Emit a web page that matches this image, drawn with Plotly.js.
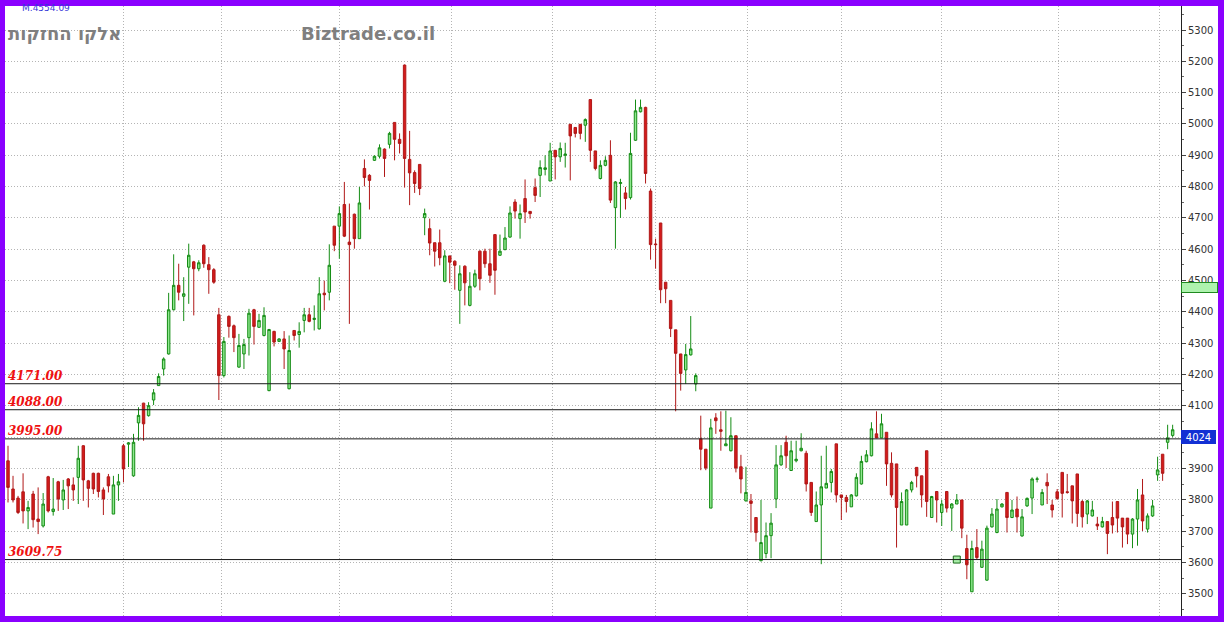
<!DOCTYPE html>
<html><head><meta charset="utf-8">
<script src="https://cdn.plot.ly/plotly-3.0.1.min.js"></script>
<style>html,body{margin:0;padding:0;background:#8a00ff;overflow:hidden;} #chart{width:1224px;height:622px;}</style>
</head><body><div id="chart"></div>
<script>
const openP = [3925,3835,3806,3826,3765,3819,3739,3717,3874,3763,3858,3800,3867,3848,3872,3973,3861,3885,3885,3832,3874,3755,3848,3973,3978,3877,4046,4109,4069,4119,4165,4218,4266,4407,4485,4450,4543,4560,4538,4613,4551,4535,4391,4197,4386,4356,4224,4266,4318,4407,4351,4325,4149,4338,4306,4314,4155,4341,4328,4373,4391,4376,4346,4460,4463,4674,4674,4743,4623,4712,4634,4858,4836,4884,4897,4920,4935,5005,4951,5188,4887,4845,4871,4701,4666,4621,4621,4498,4579,4562,4469,4546,4421,4482,4594,4594,4554,4647,4581,4599,4639,4751,4698,4762,4721,4797,4836,4855,4818,4916,4895,4900,4999,4989,4999,4996,5078,4914,4826,4868,4900,4733,4810,4780,4765,4948,5039,5053,4786,4617,4684,4495,4437,4343,4266,4215,4263,4170,3995,3962,3774,4062,4024,3973,3957,4005,3906,3797,3797,3744,3606,3629,3686,3803,3912,3984,3894,3925,3957,3949,3856,3731,3784,3838,3856,3979,3816,3808,3778,3813,3851,3922,3941,4011,3998,4016,3917,3915,3720,3720,3832,3904,3877,3957,3744,3827,3760,3827,3774,3787,3800,3645,3507,3648,3585,3544,3714,3696,3778,3824,3744,3771,3685,3781,3806,3866,3784,3856,3784,3826,3888,3826,3845,3883,3795,3755,3749,3723,3714,3731,3744,3795,3742,3742,3691,3739,3816,3707,3749,3880,3946,3984,4006];
const highP = [3973,3877,3813,3885,3797,3829,3840,3822,3877,3870,3861,3864,3870,3872,3973,3975,3864,3887,3887,3840,3883,3877,3883,3979,3985,4011,4096,4110,4112,4154,4204,4255,4461,4584,4554,4511,4618,4563,4565,4616,4575,4540,4413,4320,4389,4360,4330,4314,4410,4410,4394,4415,4346,4340,4316,4339,4325,4341,4367,4413,4413,4421,4511,4500,4616,4674,4737,4815,4746,4714,4799,4887,4840,4900,4935,4922,4975,5005,4970,5190,4978,4852,4871,4730,4698,4621,4663,4597,4579,4565,4549,4549,4527,4535,4597,4602,4602,4647,4647,4671,4737,4760,4743,4823,4722,4826,4884,4900,4940,4916,4941,4940,4999,4989,4999,5018,5078,4914,4884,4897,4948,4818,4825,4799,4972,5078,5078,5055,4794,4634,4684,4495,4437,4343,4266,4298,4387,4204,4069,3962,4059,4077,4083,4085,4064,4005,3944,3906,3819,3744,3800,3728,3758,3975,3975,4005,3989,3989,4013,3957,3856,3827,3941,3973,3899,3979,3816,3816,3819,3885,3941,3959,4048,4083,4075,4016,3952,3915,3824,3835,3861,3904,3877,3957,3813,3827,3800,3827,3790,3819,3800,3689,3670,3707,3670,3718,3774,3803,3790,3824,3800,3811,3771,3808,3872,3874,3835,3885,3800,3835,3888,3883,3845,3883,3800,3800,3797,3746,3746,3731,3795,3795,3742,3742,3742,3835,3867,3757,3800,3938,3946,4040,4040];
const lowP = [3792,3792,3755,3725,3707,3712,3691,3712,3760,3750,3765,3768,3771,3797,3787,3797,3776,3819,3808,3752,3824,3755,3797,3856,3905,3874,3989,3989,4066,4103,4165,4197,4264,4405,4437,4371,4426,4389,4530,4541,4458,4490,4119,4191,4318,4272,4222,4218,4261,4296,4350,4322,4147,4290,4304,4218,4153,4309,4286,4335,4367,4341,4344,4405,4437,4594,4570,4639,4362,4602,4634,4801,4727,4882,4890,4831,4922,4884,4906,4797,4741,4780,4773,4645,4581,4545,4549,4495,4492,4471,4362,4421,4418,4477,4469,4541,4493,4455,4579,4597,4637,4698,4634,4684,4698,4751,4767,4836,4818,4823,4879,4861,4820,4957,4951,4943,4879,4852,4823,4865,4748,4602,4700,4727,4759,4946,5037,4810,4567,4538,4428,4428,4320,4083,4149,4170,4261,4147,3895,3895,3774,4011,3957,3973,3955,3888,3821,3795,3696,3667,3604,3614,3614,3774,3909,3902,3893,3920,3955,3827,3749,3731,3595,3838,3824,3792,3736,3760,3778,3811,3849,3920,3939,3998,3998,3845,3808,3648,3720,3720,3824,3840,3776,3746,3744,3728,3717,3760,3701,3787,3678,3547,3507,3611,3583,3542,3712,3694,3776,3696,3742,3696,3683,3778,3755,3856,3784,3787,3744,3800,3744,3820,3725,3714,3712,3723,3747,3704,3712,3627,3693,3696,3648,3659,3646,3654,3701,3696,3746,3861,3861,3962,4000];
const closeP = [3840,3800,3760,3765,3776,3737,3731,3787,3765,3771,3803,3832,3845,3832,3933,3864,3837,3835,3827,3803,3845,3848,3858,3899,3982,3984,4070,4043,4101,4142,4194,4250,4407,4485,4463,4458,4581,4538,4557,4554,4535,4495,4197,4306,4354,4318,4293,4296,4396,4354,4373,4389,4344,4304,4314,4282,4277,4325,4338,4391,4370,4380,4458,4455,4549,4613,4714,4642,4615,4634,4748,4829,4820,4897,4924,4890,4970,4951,4938,4890,4844,4810,4794,4714,4620,4594,4573,4579,4559,4549,4522,4493,4482,4522,4506,4554,4517,4533,4594,4636,4716,4722,4714,4719,4714,4772,4861,4860,4914,4895,4922,4904,4962,4970,4970,5014,4916,4858,4868,4884,4757,4815,4813,4762,4906,5042,5053,4842,4615,4615,4471,4474,4347,4268,4204,4264,4282,4197,3962,3902,4030,4053,4019,3979,4005,3902,3867,3824,3789,3696,3664,3686,3726,3912,3941,3941,3957,3930,3965,3851,3760,3784,3842,3853,3891,3816,3808,3795,3816,3872,3923,3944,4027,3998,4043,3915,3816,3776,3795,3832,3856,3877,3816,3795,3811,3800,3787,3774,3787,3800,3710,3593,3645,3616,3643,3710,3755,3771,3787,3744,3768,3746,3746,3805,3867,3867,3824,3845,3768,3805,3821,3824,3797,3757,3746,3797,3768,3717,3731,3693,3720,3742,3714,3691,3739,3800,3733,3749,3781,3896,3885,3998,4024];

const monthTicks = [23, 42.6, 66, 88.4, 108.4, 129, 147.4, 166, 186, 209.2, 229.3];
const levels = [4171, 4088, 3995, 3609.75];
const levelLabels = ['4171.00', '4088.00', '3995.00', '3609.75'];
const lastPrice = 4024;
const markX = [189];
const markY = [3609.75];
const stockName = 'אלקו החזקות';
const siteName = 'Biztrade.co.il';
const topNote = 'M.4554.09';

const idx = openP.map((_, i) => i);

const W = 1224, H = 622, ML = 5, MR = 43, MT = 6, MB = 6;
const PW = W - ML - MR, PH = H - MT - MB;
const px = x => (x - ML) / PW;
const py = y => 1 - (y - MT) / PH;

const traces = [
  {
    type: 'candlestick', x: idx, open: openP, high: highP, low: lowP, close: closeP,
    increasing: {line: {color: '#158c15', width: 1}, fillcolor: '#8fe88f'},
    decreasing: {line: {color: '#b01818', width: 1}, fillcolor: '#d41b1b'},
    whiskerwidth: 0, hoverinfo: 'skip', showlegend: false
  },
  {
    type: 'scatter', mode: 'markers', x: markX, y: markY,
    marker: {symbol: 'square', size: 7, color: '#a8eea8', line: {color: '#1a6a1a', width: 1}},
    hoverinfo: 'skip', showlegend: false
  }
];

const shapes = levels.map(v => ({
  type: 'line', xref: 'paper', yref: 'y', x0: 0, x1: 1, y0: v, y1: v,
  line: {color: '#1a1a1a', width: 1}
}));
shapes.push({type: 'rect', xref: 'paper', yref: 'paper', x0: 1, x1: px(1218), y0: 0, y1: 1,
  fillcolor: '#ffffff', line: {width: 0}, layer: 'below'});

const annotations = levels.map((v, i) => ({
  xref: 'paper', yref: 'y', x: 0, y: v, xanchor: 'left', yanchor: 'bottom', xshift: 1, yshift: -1,
  text: '<b><i>' + levelLabels[i] + '</i></b>', showarrow: false,
  font: {family: 'DejaVu Serif', size: 12, color: '#ee1111'}
}));
annotations.push(
  {xref: 'paper', yref: 'paper', x: px(6), y: py(33), xanchor: 'left', yanchor: 'middle', showarrow: false,
   text: '<b>' + stockName + '</b>', font: {family: 'DejaVu Sans', size: 18, color: '#7f7f7f'}},
  {xref: 'paper', yref: 'paper', x: px(299), y: py(33), xanchor: 'left', yanchor: 'middle', showarrow: false,
   text: '<b>' + siteName + '</b>', font: {family: 'DejaVu Sans', size: 18, color: '#7f7f7f'}},
  {xref: 'paper', yref: 'paper', x: px(20), y: py(8), xanchor: 'left', yanchor: 'middle', showarrow: false,
   text: topNote, font: {family: 'DejaVu Sans', size: 9, color: '#3838d8'}},
  {xref: 'paper', yref: 'paper', x: 1, y: py(282), xanchor: 'left', yanchor: 'top', xshift: 0, showarrow: false,
   text: ' ', width: 35, height: 9, bgcolor: '#aef2ae', bordercolor: '#1f8a1f', borderwidth: 1, borderpad: 0},
  {xref: 'paper', yref: 'y', x: 1, y: lastPrice, xanchor: 'left', yanchor: 'top', xshift: 0, showarrow: false,
   text: String(lastPrice), width: 33, height: 12, bgcolor: '#1230d4', bordercolor: '#1230d4', borderpad: 0,
   font: {family: 'DejaVu Sans', size: 10, color: '#ffffff'}}
);

const layout = {
  width: W, height: H,
  margin: {l: ML, r: MR, t: MT, b: MB, pad: 0},
  paper_bgcolor: '#8a00ff', plot_bgcolor: '#ffffff',
  showlegend: false,
  xaxis: {
    range: [-0.6, -0.6 + PW / 5.02], tickvals: monthTicks, showticklabels: false, ticks: '',
    showgrid: true, gridcolor: '#b4b4b4', griddash: '1px,2px', gridwidth: 1,
    zeroline: false, showline: false, rangeslider: {visible: false}, fixedrange: true
  },
  yaxis: {
    side: 'right', range: [3429.6, 5376.6], dtick: 100, tick0: 0,
    showgrid: true, gridcolor: '#b4b4b4', griddash: '1px,2px', gridwidth: 1,
    ticks: 'outside', ticklen: 4, tickcolor: '#444', tickwidth: 1,
    minor: {dtick: 50, ticks: 'outside', ticklen: 2, tickcolor: '#666', showgrid: false},
    showline: true, linecolor: '#222', linewidth: 1, zeroline: false,
    tickfont: {family: 'DejaVu Sans', size: 10, color: '#333'}, fixedrange: true
  },
  shapes: shapes, annotations: annotations
};

Plotly.newPlot('chart', traces, layout, {staticPlot: true, displayModeBar: false});
</script>
</body></html>
